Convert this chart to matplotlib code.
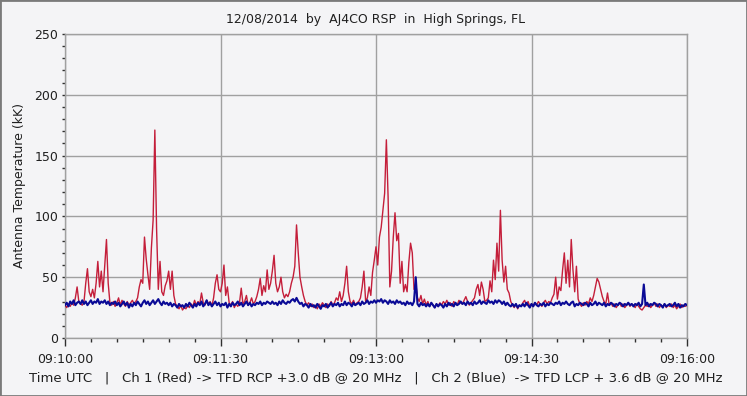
import matplotlib
matplotlib.use("Agg")
import matplotlib.pyplot as plt
from matplotlib.patches import Rectangle
import numpy as np

# seconds after 09:10:00, 1 s steps
seconds = list(range(0, 361))

red_ch1 = [
    27, 25, 28, 26, 29, 27, 33, 42, 30, 28,
    27, 30, 45, 57, 38, 34, 40, 33, 45, 63,
    42, 55, 38, 60, 81, 45, 29, 27, 30, 26,
    29, 33, 27, 31, 28, 26, 30, 27, 29, 31,
    28, 30, 33, 42, 48, 45, 83, 65, 52, 40,
    74, 97, 171, 90, 40, 63, 38, 35, 43, 47,
    55, 40, 55, 35, 28, 26, 24, 27, 23, 25,
    24, 27, 25, 28, 26, 31, 27, 30, 28, 37,
    29, 27, 31, 28, 30, 26, 33, 45, 52, 40,
    38, 45, 60, 35, 42, 29, 27, 30, 25, 28,
    26, 29, 41, 28, 30, 35, 27, 29, 33, 28,
    30, 34, 40, 49, 35, 43, 38, 56, 40, 45,
    55, 68, 45, 38, 42, 50, 38, 33, 36, 34,
    38, 45, 50, 59, 93, 70, 50, 42, 35, 30,
    27, 29, 26, 28, 25, 27, 24, 28, 26, 29,
    27, 25, 28, 26, 30, 27, 29, 33, 31, 38,
    30, 35, 45, 59, 38, 30, 28, 31, 27, 29,
    30, 33, 42, 55, 30, 33, 42, 35, 54, 64,
    75, 60, 83, 91, 105, 119, 163, 116, 42, 55,
    83, 103, 80, 86, 45, 63, 38, 44, 38, 62,
    78, 70, 40, 45, 33, 30, 35, 28, 32, 27,
    30, 26, 29, 27, 25, 28, 26, 29, 27, 30,
    28, 31, 27, 29, 26, 30, 28, 27, 31, 29,
    28, 31, 34, 30, 27, 29, 31, 33, 40, 44,
    35, 46, 40, 30, 31, 33, 47, 38, 64, 48,
    78, 55, 105, 64, 46, 59, 40, 37, 30, 27,
    25, 28, 24, 27, 26, 29, 31, 27, 30, 26,
    28, 26, 29, 27, 30, 28, 26, 29, 31, 28,
    30, 29, 33, 36, 50, 32, 42, 39, 56, 70,
    45, 64, 42, 81, 56, 38, 59, 32, 28, 26,
    29, 27, 30, 28, 33, 30, 35, 42, 49, 46,
    40, 34, 30, 28, 37, 27, 29, 26, 28, 25,
    27, 29, 26, 28, 25, 27, 29, 26, 28, 27,
    25, 28, 26, 24, 23, 25, 27, 26, 28, 25,
    27, 29, 26, 28, 25, 27, 26, 28, 25, 27,
    26, 28, 25, 27, 24, 26, 28, 25, 27, 26,
    27,
]

blue_ch2 = [
    27, 29, 26, 30, 28, 31, 27, 29, 30, 28,
    31, 28, 30, 27, 29, 31, 28, 30, 29, 32,
    28, 30, 29, 31, 28, 30, 27, 29, 28, 30,
    27, 29, 26, 28, 30, 27, 29, 25, 28, 26,
    29, 27, 30, 28, 26, 29, 31, 28, 30, 27,
    29, 31, 28, 30, 32, 29, 27, 30, 28, 29,
    27, 29, 26, 28, 27, 25, 28, 26, 27, 25,
    28, 26, 29, 27, 25, 28, 26, 29, 27, 30,
    26, 28, 31, 27, 29, 26, 28, 30, 27, 29,
    26, 28, 27, 29, 25, 28, 26, 29, 27, 28,
    30, 27, 29, 26, 28, 30, 27, 29, 26, 28,
    27, 29, 28, 30, 27, 29, 28, 30, 29, 28,
    30, 28, 29, 27, 30, 28, 31, 29, 28, 30,
    29, 31, 32, 30, 33, 30, 28, 29, 26, 28,
    27, 25, 28, 26, 27, 25, 28, 26, 24, 27,
    26, 28, 25, 27, 29, 26, 28, 27, 29, 26,
    28, 27, 30, 27, 29, 28, 26, 29, 27, 28,
    29, 27, 30, 28, 29, 31, 28, 30, 29, 31,
    29, 31, 30, 32, 29, 31, 30, 28, 31, 29,
    30, 28, 31, 29, 30, 28, 29, 27, 30, 28,
    29, 27, 30, 50, 28, 26, 29, 27, 28, 26,
    28, 26, 29, 27, 25, 28, 26, 28, 27, 25,
    28, 26, 29, 27, 28, 26, 29, 27, 28, 30,
    28, 29, 27, 30, 28, 29, 27, 30, 28, 29,
    31, 28, 30, 29, 28, 31, 29, 30, 28, 31,
    29, 31, 30, 28, 30, 27, 29, 27, 26, 28,
    26, 28, 25, 27, 26, 28, 26, 29, 27, 25,
    28, 26, 29, 27, 26, 28, 27, 29, 26, 28,
    27, 29, 28, 27, 29, 28, 30, 27, 29, 28,
    30, 28, 27, 29, 30, 26, 28, 27, 29, 28,
    27, 29, 28, 26, 29, 27, 28, 30, 27, 29,
    28, 27, 29, 26, 28, 27, 29, 28, 26, 28,
    27, 29, 28, 26, 28, 27, 29, 27, 28, 26,
    28, 27, 29, 26, 28, 44, 27, 29, 26, 28,
    27, 29, 28, 26, 28, 27, 25, 28, 26, 27,
    28, 26, 27, 29, 26, 28, 25, 27, 26, 28,
    27,
]

x_tick_pos = [0, 90, 180, 270, 360]
x_tick_labels = ["09:10:00", "09:11:30", "09:13:00", "09:14:30", "09:16:00"]
y_ticks = [0, 50, 100, 150, 200, 250]

title = "12/08/2014  by  AJ4CO RSP  in  High Springs, FL"
xlabel = "Time UTC   |   Ch 1 (Red) -> TFD RCP +3.0 dB @ 20 MHz   |   Ch 2 (Blue)  -> TFD LCP + 3.6 dB @ 20 MHz"
ylabel = "Antenna Temperature (kK)"

bg = "#F4F4F6"
plt.rcParams["font.family"] = ["DejaVu Sans"]

fig = plt.figure(figsize=(7.47, 3.96), dpi=100, facecolor=bg)
ax = fig.add_axes([65 / 747, 1 - 338 / 396, (687 - 65) / 747, (338 - 34) / 396])
ax.set_facecolor(bg)

ax.plot(seconds, red_ch1, color="#C41E3A", lw=1.0, zorder=3)
ax.plot(seconds, blue_ch2, color="#0A0A96", lw=1.5, zorder=4)

ax.set_xlim(0, 360)
ax.set_ylim(0, 250)
ax.set_xticks(x_tick_pos)
ax.set_xticklabels(x_tick_labels, fontsize=9, color="#202020")
ax.set_xticks(list(range(0, 361, 15)), minor=True)
ax.set_yticks(y_ticks)
ax.set_yticklabels([str(v) for v in y_ticks], fontsize=9, color="#202020")
ax.set_yticks(list(range(0, 251, 10)), minor=True)

ax.tick_params(axis="x", which="major", direction="out", length=6, width=1, color="#303030", pad=5)
ax.tick_params(axis="x", which="minor", direction="out", length=3, width=1, color="#303030")
ax.tick_params(axis="y", which="major", direction="out", length=2, width=1, color="#303030", pad=3)
ax.tick_params(axis="y", which="minor", direction="out", length=2, width=1, color="#303030")

ax.grid(True, which="major", color="#A0A0A0", lw=1)
for s in ax.spines.values():
    s.set_color("#A0A0A0")
    s.set_linewidth(1)

ax.set_title(title, fontsize=9, color="#202020", pad=8)
ax.set_xlabel(xlabel, fontsize=9.5, color="#202020", labelpad=4)
ax.set_ylabel(ylabel, fontsize=9, color="#202020", labelpad=6)

# window-like border
fig.patches.append(Rectangle((0, 0), 1, 1, transform=fig.transFigure, fill=False,
                             edgecolor="#7A7A7A", lw=2))

fig.savefig("out.png", dpi=100, facecolor=bg)
